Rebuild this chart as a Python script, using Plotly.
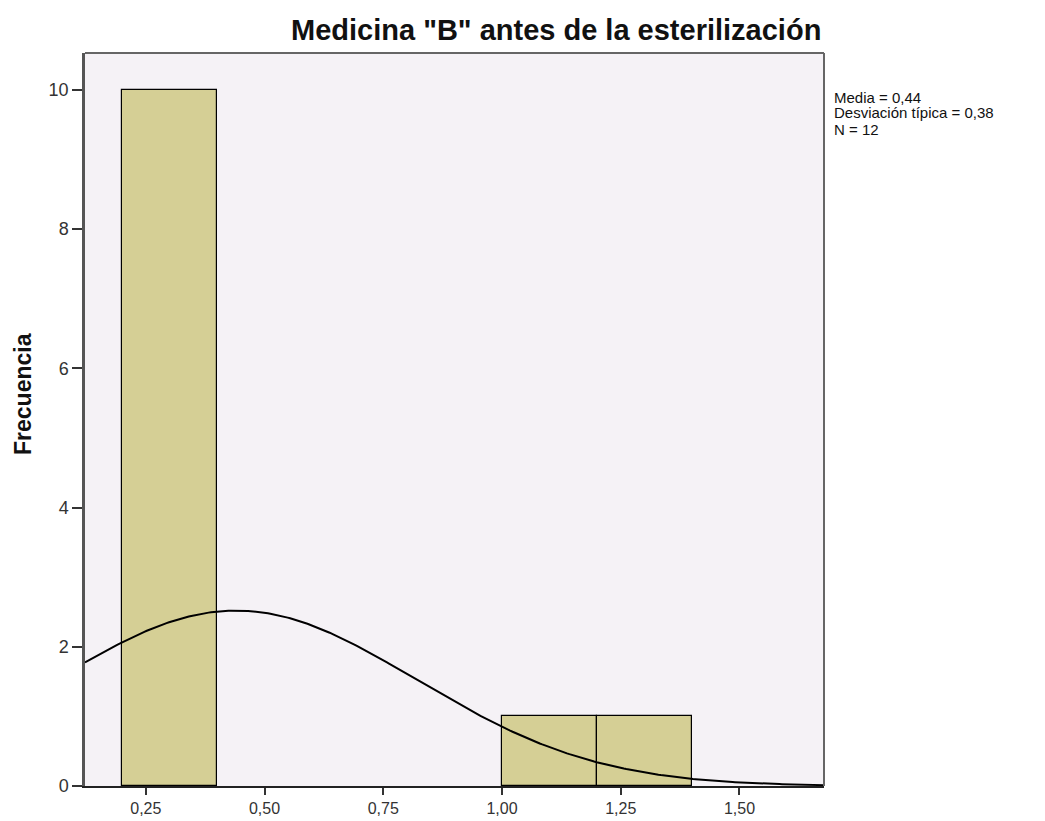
import numpy as np
import plotly.graph_objects as go

# Data
bin_left = [0.2, 1.0, 1.2]
bin_width = 0.2
counts = [10, 1, 1]
mean_val = 0.44
sd_val = 0.38
n_val = 12
x_ticks = [0.25, 0.50, 0.75, 1.00, 1.25, 1.50]
y_ticks = [0, 2, 4, 6, 8, 10]
stats_lines = ["Media = 0,44", "Desviación típica = 0,38", "N = 12"]
title_text = 'Medicina "B" antes de la esterilización'
y_title = "Frecuencia"

x_range = [0.122, 1.678]
y_range = [0, 10.53]

fig = go.Figure()

centers = [l + bin_width / 2 for l in bin_left]
fig.add_trace(go.Bar(
    x=centers, y=counts, width=[bin_width] * len(counts),
    marker=dict(color="#D5CF95", line=dict(color="#000000", width=1.2)),
    showlegend=False, hoverinfo="skip",
))

xs = np.linspace(x_range[0], x_range[1], 300)
ys = n_val * bin_width / (sd_val * np.sqrt(2 * np.pi)) * np.exp(-0.5 * ((xs - mean_val) / sd_val) ** 2)
fig.add_trace(go.Scatter(
    x=xs, y=ys, mode="lines", line=dict(color="#000000", width=2),
    showlegend=False, hoverinfo="skip",
))

L, R, T, B = 85, 824, 53, 786
W, H = 1045, 821

fig.update_layout(
    width=W, height=H,
    margin=dict(l=L, r=W - R, t=T, b=H - B, pad=0, autoexpand=False),
    paper_bgcolor="#FFFFFF",
    plot_bgcolor="#F5F2F6",
    separators=",.",
    font=dict(family="Liberation Sans, Arial, sans-serif", color="#222222"),
    bargap=0,
)

fig.update_xaxes(
    range=x_range, tickvals=x_ticks, tickformat=".2f",
    ticks="outside", ticklen=7, tickwidth=2, tickcolor="#333333",
    tickfont=dict(size=16, color="#333333"),
    showgrid=False, zeroline=False, automargin=False,
    showline=True, linecolor="#222222", linewidth=2, mirror=False,
)
fig.update_yaxes(
    range=y_range, tickvals=y_ticks,
    ticks="outside", ticklen=10, tickwidth=2, tickcolor="#333333",
    tickfont=dict(size=18, color="#333333"),
    showgrid=False, zeroline=False, automargin=False,
    showline=True, linecolor="#555555", linewidth=2.5, mirror=False,
)

# frame top/right
fig.add_shape(type="line", xref="paper", yref="paper", x0=0, x1=1, y0=1, y1=1,
              line=dict(color="#666666", width=2))
fig.add_shape(type="line", xref="paper", yref="paper", x0=1, x1=1, y0=0, y1=1,
              line=dict(color="#666666", width=2))

fig.add_annotation(
    text="<b>" + title_text + "</b>", xref="paper", yref="paper",
    x=(556 - L) / (R - L), y=1, yanchor="bottom", xanchor="center", yshift=5,
    showarrow=False, font=dict(size=29, color="#111111"),
)

fig.add_annotation(
    text="<b>" + y_title + "</b>", xref="paper", yref="paper",
    x=-(L - 23) / (R - L), xanchor="center", y=(B - 394) / (B - T), yanchor="middle",
    textangle=-90, showarrow=False, font=dict(size=23, color="#111111"),
)

for i, line in enumerate(stats_lines):
    fig.add_annotation(
        text=line, xref="paper", yref="paper",
        x=1, xanchor="left", xshift=8,
        y=1 - (44 + 16 * i) / (B - T), yanchor="middle",
        showarrow=False, font=dict(size=15, color="#111111"),
    )

fig.write_html("out.html", config={"displayModeBar": False},
               post_script="document.body.style.margin='0';")
